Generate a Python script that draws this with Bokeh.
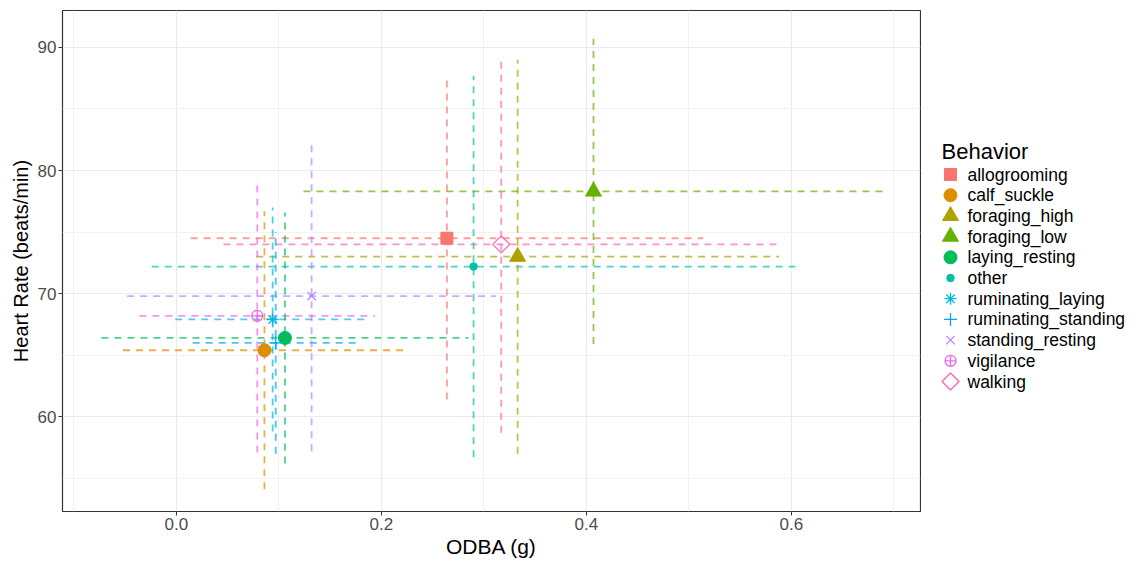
from bokeh.plotting import figure
from bokeh.models import Range1d, FixedTicker, NumeralTickFormatter
from bokeh.layouts import row
from bokeh.core.properties import value
from bokeh.embed import file_html
from bokeh.resources import INLINE
import numpy as np

# ---- data ----
behaviors = ["allogrooming", "calf_suckle", "foraging_high", "foraging_low",
             "laying_resting", "other", "ruminating_laying", "ruminating_standing",
             "standing_resting", "vigilance", "walking"]
odba_mean = [0.264, 0.086, 0.333, 0.407, 0.106, 0.290, 0.094, 0.097, 0.132, 0.079, 0.317]
odba_sd = [0.250, 0.138, 0.255, 0.283, 0.179, 0.314, 0.095, 0.081, 0.180, 0.115, 0.271]
hr_mean = [74.5, 65.4, 73.0, 78.3, 66.4, 72.2, 67.9, 66.0, 69.8, 68.2, 74.0]
hr_sd = [13.1, 11.3, 16.0, 12.4, 10.2, 15.5, 9.1, 9.0, 12.6, 11.1, 15.3]

x_ticks = [0.0, 0.2, 0.4, 0.6]
x_minor = [-0.1, 0.1, 0.3, 0.5, 0.7]
y_ticks = [60, 70, 80, 90]
y_minor = [55, 65, 75, 85]

# ---- styles ----
colors = ["#F8766D", "#DB8E00", "#AEA200", "#64B200", "#00BD5C", "#00C1A7",
          "#00BADE", "#00A6FF", "#B385FF", "#EF67EB", "#FF63B6"]
markers = ["square", "circle", "triangle", "triangle", "circle", "circle",
           "asterisk", "cross", "x", "circle_cross", "square"]
sizes = [12, 13, 16, 16, 13, 7.5, 12, 13, 12, 11, 12]
filled = [True, True, True, True, True, True, False, False, False, False, False]
angles = [0, 0, 0, 0, 0, 0, 0, 0, 0, 0, np.pi / 4]

FONT = "Liberation Sans"

p = figure(width=921, height=565, output_backend="svg", toolbar_location=None,
           x_range=Range1d(-0.111, 0.726), y_range=Range1d(52.3, 93.0),
           min_border_left=62, min_border_right=1, min_border_top=10,
           min_border_bottom=54)
p.background_fill_color = "white"
p.border_fill_color = "white"
p.outline_line_color = "#333333"
p.outline_line_width = 1.2

# axes
p.xaxis.ticker = FixedTicker(ticks=x_ticks, minor_ticks=x_minor)
p.yaxis.ticker = FixedTicker(ticks=y_ticks, minor_ticks=y_minor)
p.xaxis.formatter = NumeralTickFormatter(format="0.0")
p.xaxis.axis_label = "ODBA (g)"
p.yaxis.axis_label = "Heart Rate (beats/min)"
for ax in (p.xaxis, p.yaxis):
    ax.axis_line_color = None
    ax.major_tick_line_color = "#333333"
    ax.major_tick_out = 4
    ax.major_tick_in = 0
    ax.minor_tick_line_color = None
    ax.major_label_text_color = "#4D4D4D"
    ax.major_label_text_font = FONT
    ax.major_label_text_font_size = "17px"
    ax.major_label_standoff = 2
    ax.axis_label_text_font = FONT
    ax.axis_label_text_font_style = "normal"
    ax.axis_label_text_color = "#000000"
    ax.axis_label_standoff = 2
p.xaxis.axis_label_text_font_size = "21px"
p.yaxis.axis_label_text_font_size = "20px"
p.yaxis.axis_label_standoff = 3

for g in (p.xgrid, p.ygrid):
    g.grid_line_color = "#EBEBEB"
    g.grid_line_width = 1.2
    g.minor_grid_line_color = "#F2F2F2"
    g.minor_grid_line_width = 1

# error bars (mean +/- sd), dashed
xm = np.array(odba_mean); xs = np.array(odba_sd)
ym = np.array(hr_mean); ys = np.array(hr_sd)
p.segment(x0=xm - xs, y0=ym, x1=xm + xs, y1=ym, line_color=colors,
          line_dash="7 6", line_width=1.8, line_alpha=0.7)
p.segment(x0=xm, y0=ym - ys, x1=xm, y1=ym + ys, line_color=colors,
          line_dash="7 6", line_width=1.8, line_alpha=0.7)

for i, b in enumerate(behaviors):
    p.scatter(x=[odba_mean[i]], y=[hr_mean[i]], marker=markers[i], size=sizes[i],
              angle=angles[i],
              fill_color=colors[i], fill_alpha=1.0 if filled[i] else 0.0,
              line_color=colors[i], line_width=1.0 if filled[i] else 1.3)

# ---- legend panel (pixel coordinates; frame aligned with the plot frame 10..511) ----
lg = figure(width=216, height=565, output_backend="svg", toolbar_location=None,
            x_range=Range1d(0, 216), y_range=Range1d(511, 10),
            min_border_left=0, min_border_right=0, min_border_top=10,
            min_border_bottom=54, x_axis_type=None, y_axis_type=None)
lg.outline_line_color = None
lg.grid.visible = False
lg.background_fill_color = "white"
lg.border_fill_color = "white"

row_y = [174 + 20.7 * i for i in range(len(behaviors))]
for i, b in enumerate(behaviors):
    lg.scatter(x=[29], y=[row_y[i]], marker=markers[i], size=sizes[i],
               angle=-angles[i],
               fill_color=colors[i], fill_alpha=1.0 if filled[i] else 0.0,
               line_color=colors[i], line_width=1.0 if filled[i] else 1.3)
lg.text(x=[46] * len(behaviors), y=row_y, text=behaviors,
        text_font=value(FONT), text_font_size="17.5px", text_color="#000000",
        text_baseline="middle", text_align="left")
lg.text(x=[20], y=[151], text=["Behavior"], text_font=value(FONT),
        text_font_size="22px", text_color="#000000",
        text_baseline="middle", text_align="left")

layout = row(p, lg)
open("out.html", "w").write(file_html(layout, INLINE))
